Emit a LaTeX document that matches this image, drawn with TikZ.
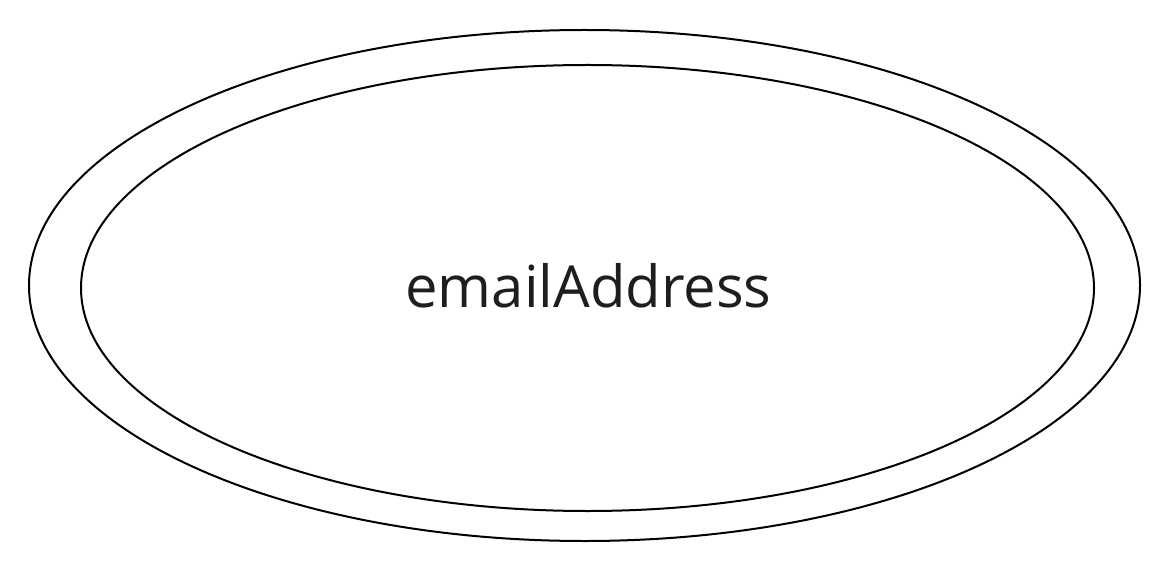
\documentclass[tikz,border=0pt]{standalone}
\usepackage{fontspec}
\setmainfont{Open Sans}
\definecolor{eaink}{HTML}{1E1E1E}
\usetikzlibrary{shapes.geometric}

\begin{document}
\begin{tikzpicture}[x=1pt, y=1pt,
    ring/.style={draw=black, line width=2pt, ellipse, inner sep=0pt}]
  \useasboundingbox (0,0) rectangle (1169,571);
  % Double ellipse (multivalued attribute)
  \node[ring, minimum width=1111pt, minimum height=511pt] (outer) at (584.5, 285.5) {};
  \node[ring, minimum width=1013pt, minimum height=446pt] (inner) at (587.5, 283) {};
  % Attribute name
  \node[anchor=base, font=\fontsize{58}{60}\selectfont, text=eaink, inner sep=0pt] (label)
    at (588.5, 264) {emailAddress};
\end{tikzpicture}
\end{document}
